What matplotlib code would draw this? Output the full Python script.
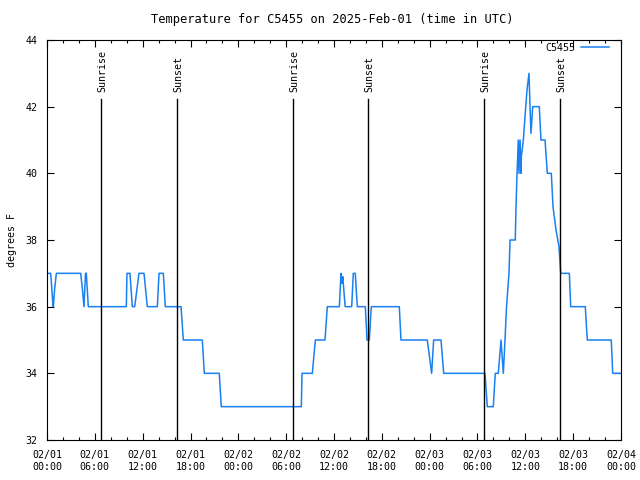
import matplotlib
matplotlib.use('Agg')
import matplotlib.pyplot as plt
from matplotlib.ticker import MultipleLocator

# hours since 2025-02-01 00:00 UTC
hours = [0.0, 0.46, 0.62, 0.75, 0.79, 0.95, 1.17, 4.23, 4.45, 4.64, 4.83, 4.93, 5.18,
         9.95, 10.03, 10.41, 10.70, 11.0, 11.54, 12.17, 12.58,
         13.84, 14.05, 14.59, 14.84, 16.81, 17.10, 19.48, 19.73, 21.61, 21.86,
         31.90, 31.99, 33.28, 33.66, 34.87, 35.16, 36.67, 36.88, 37.0, 37.1, 37.4,
         38.22, 38.42, 38.67, 38.92, 39.93, 40.14, 40.43, 40.68,
         44.19, 44.40, 47.70, 48.25, 48.5, 49.42, 49.76,
         54.94, 55.23, 55.98, 56.23, 56.61, 56.95, 57.24, 57.45, 57.64, 57.95, 58.08,
         58.74, 58.83, 58.96, 59.12, 59.2, 59.34, 59.46, 59.5, 59.75, 60.05, 60.21,
         60.46, 60.59, 60.71, 60.93, 61.75, 61.96, 62.47, 62.76, 63.26, 63.47, 63.85,
         64.22, 64.44, 65.52, 65.69, 67.52, 67.77, 70.78, 70.96, 72.0]
temps = [37, 37, 36.5, 36, 36, 36.5, 37, 37, 36.5, 36, 37, 37, 36,
         36, 37, 37, 36, 36, 37, 37, 36,
         36, 37, 37, 36, 36, 35, 35, 34, 34, 33,
         33, 34, 34, 35, 35, 36, 36, 37, 36.7, 36.9, 36,
         36, 37, 37, 36, 36, 35, 35, 36,
         36, 35, 35, 34, 35, 35, 34,
         34, 33, 33, 34, 34, 35, 34, 35, 36, 37, 38,
         38, 39, 40, 41, 40, 41, 40, 40.5, 41, 42, 42.5,
         43, 42, 41.2, 42, 42, 41, 41, 40, 40, 39, 38.3,
         37.8, 37, 37, 36, 36, 35, 35, 34, 34]

sunrise = [6.8, 30.8, 54.8]
sunset = [16.3, 40.3, 64.35]

tick_hours = list(range(0, 73, 6))
tick_labels = ['02/01\n00:00', '02/01\n06:00', '02/01\n12:00', '02/01\n18:00',
               '02/02\n00:00', '02/02\n06:00', '02/02\n12:00', '02/02\n18:00',
               '02/03\n00:00', '02/03\n06:00', '02/03\n12:00', '02/03\n18:00',
               '02/04\n00:00']

plt.rcParams['font.family'] = 'DejaVu Sans Mono'
plt.rcParams['font.size'] = 7.2

fig = plt.figure(figsize=(6.4, 4.8), dpi=100)
ax = fig.add_axes([47 / 640, 40 / 480, 574 / 640, 400 / 480])

ax.plot(hours, temps, color='#1a80f0', lw=1.1, label='C5455')

for t in sunrise + sunset:
    ax.plot([t, t], [32, 42.23], color='black', lw=1)
for t in sunrise:
    ax.text(t + 0.2, 42.45, 'Sunrise', rotation=90, ha='center', va='bottom')
for t in sunset:
    ax.text(t + 0.2, 42.45, 'Sunset', rotation=90, ha='center', va='bottom')

ax.set_xlim(0, 72)
ax.set_ylim(32, 44)
ax.set_xticks(tick_hours)
ax.set_xticklabels(tick_labels)
ax.xaxis.set_minor_locator(MultipleLocator(2))
ax.set_yticks(range(32, 45, 2))
ax.tick_params(which='both', direction='in', top=True, right=True, colors='black')
ax.tick_params(which='major', length=5, width=0.8)
ax.tick_params(axis='x', which='major', pad=7.5)
ax.tick_params(axis='y', which='major', pad=7)
ax.tick_params(which='minor', length=2.5, width=0.8)
for s in ax.spines.values():
    s.set_linewidth(0.8)

ax.set_ylabel('degrees F', labelpad=6)
ax.set_title('Temperature for C5455 on 2025-Feb-01 (time in UTC)', pad=12, x=0.497)

ax.legend(loc='upper right', frameon=False, markerfirst=False, handlelength=2.8,
          bbox_to_anchor=(1 - 12 / 574, 1 - 3 / 400), borderaxespad=0, borderpad=0,
          handletextpad=0.6)

fig.savefig('out.png', dpi=100)
